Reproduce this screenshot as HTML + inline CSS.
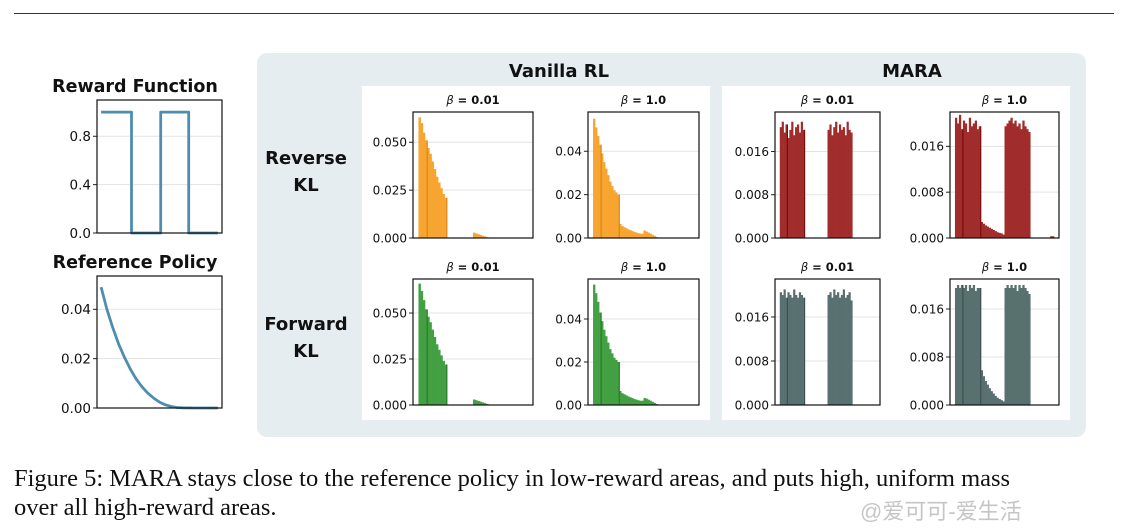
<!DOCTYPE html>
<html><head><meta charset="utf-8">
<style>
html,body{margin:0;padding:0;background:#fff;}
body{width:1129px;height:532px;position:relative;overflow:hidden;font-family:"DejaVu Sans","Liberation Sans",sans-serif;}
.cap{position:absolute;left:14px;font-family:"Liberation Serif",serif;font-size:24.5px;color:#111;white-space:nowrap;}
</style></head>
<body>
<div style="position:absolute;left:14px;top:13px;width:1100px;height:1px;background:#333"></div>
<svg id="fig" width="1129" height="450" style="position:absolute;left:0;top:0">
<rect x="257" y="53" width="829" height="384" rx="10" fill="#e6edf1"/>
<rect x="362" y="86" width="348" height="334" fill="#fff"/>
<rect x="722" y="86" width="348" height="334" fill="#fff"/>
<text x="559" y="77" text-anchor="middle" font-size="18" font-weight="bold" fill="#111">Vanilla RL</text>
<text x="912" y="77" text-anchor="middle" font-size="18" font-weight="bold" fill="#111">MARA</text>
<text x="306" y="164" text-anchor="middle" font-size="18" font-weight="bold" fill="#111">Reverse</text>
<text x="306" y="191" text-anchor="middle" font-size="18" font-weight="bold" fill="#111">KL</text>
<text x="306" y="330" text-anchor="middle" font-size="18" font-weight="bold" fill="#111">Forward</text>
<text x="306" y="357" text-anchor="middle" font-size="18" font-weight="bold" fill="#111">KL</text>
</svg>
<div class="cap" style="top:465px">Figure 5: MARA stays close to the reference policy in low-reward areas, and puts high, uniform mass</div>
<div class="cap" style="top:494px">over all high-reward areas.</div>
<div style="position:absolute;left:860px;top:494px;font-family:'Liberation Sans','Noto Sans CJK SC',sans-serif;font-size:22px;color:rgba(150,150,150,0.55)">@爱可可-爱生活</div>
<script>
// ---- data ----
const rewardX = [0, 0.26, 0.26, 0.51, 0.51, 0.75, 0.75, 1.0];
const rewardY = [1, 1, 0, 0, 1, 1, 0, 0];
const rewardTicks = [0.0, 0.4, 0.8];
const refX = [0, 0.05, 0.1, 0.15, 0.2, 0.25, 0.3, 0.35, 0.4, 0.45, 0.5, 0.55, 0.6, 0.65, 0.7, 0.8, 0.9, 1.0];
const refY = [0.049, 0.040, 0.0325, 0.026, 0.0205, 0.0158, 0.0118, 0.0086, 0.006, 0.004, 0.0024, 0.0013, 0.0006, 0.0002, 0.0001, 0, 0, 0];
const refTicks = [0.00, 0.02, 0.04];
const revVan001 = [0.063,0.060,0.055,0.051,0.047,0.044,0.040,0.036,0.032,0.029,0.026,0.023,0.021, 0,0,0,0,0,0,0,0,0,0,0,0, 0.0028,0.0024,0.002,0.0016,0.0012,0.0008,0.0004, 0,0,0,0,0,0,0,0,0,0,0,0,0,0,0,0,0,0];
const revVan1 = [0.055,0.051,0.047,0.043,0.039,0.035,0.032,0.029,0.026,0.024,0.022,0.021,0.020, 0.0065,0.0055,0.005,0.0045,0.004,0.0036,0.0032,0.0028,0.0025,0.0022,0.002,0.002, 0.0035,0.003,0.0025,0.002,0.0015,0.001,0.0005, 0,0,0,0,0,0,0,0,0,0,0,0,0,0,0,0,0,0];
const fwdVan001 = [0.066,0.062,0.057,0.052,0.048,0.045,0.041,0.037,0.033,0.030,0.027,0.024,0.022, 0,0,0,0,0,0,0,0,0,0,0,0, 0.003,0.0026,0.0022,0.0018,0.0014,0.001,0.0006, 0,0,0,0,0,0,0,0,0,0,0,0,0,0,0,0,0,0];
const fwdVan1 = [0.056,0.052,0.048,0.043,0.039,0.035,0.032,0.029,0.026,0.024,0.022,0.021,0.020, 0.0065,0.0055,0.005,0.0045,0.004,0.0036,0.0032,0.0028,0.0025,0.0022,0.002,0.002, 0.0033,0.003,0.0025,0.002,0.0015,0.001,0.0005, 0,0,0,0,0,0,0,0,0,0,0,0,0,0,0,0,0,0];
const revMara001 = [0.0205,0.0215,0.0195,0.021,0.0185,0.020,0.0215,0.019,0.0205,0.021,0.0195,0.0215,0.020, 0,0,0,0,0,0,0,0,0,0,0,0, 0.020,0.021,0.019,0.0205,0.0215,0.0195,0.021,0.020,0.0205,0.019,0.0215,0.020,0.0195, 0,0,0,0,0,0,0,0,0,0,0,0];
const revMara1 = [0.021,0.020,0.0215,0.019,0.0205,0.020,0.0185,0.021,0.0195,0.020,0.0205,0.019,0.0195, 0.0028,0.0025,0.0022,0.002,0.0018,0.0016,0.0014,0.0012,0.001,0.0009,0.0008,0.0006, 0.0195,0.020,0.0205,0.021,0.020,0.0205,0.0195,0.020,0.019,0.0205,0.0195,0.019,0.0185, 0,0,0,0,0,0,0,0,0,0,0.0003,0.0003];
const fwdMara001 = [0.0205,0.020,0.021,0.0195,0.0205,0.020,0.0195,0.021,0.020,0.0195,0.0205,0.020,0.0195, 0,0,0,0,0,0,0,0,0,0,0,0, 0.020,0.0205,0.0195,0.021,0.020,0.0205,0.0195,0.020,0.021,0.0195,0.020,0.0205,0.019, 0,0,0,0,0,0,0,0,0,0,0,0];
const fwdMara1 = [0.0195,0.020,0.0195,0.020,0.0195,0.020,0.019,0.020,0.0195,0.020,0.019,0.0195,0.0195, 0.0058,0.0048,0.004,0.0034,0.0028,0.0023,0.0019,0.0015,0.0012,0.001,0.0008,0.0006, 0.0195,0.020,0.0195,0.020,0.0195,0.020,0.019,0.020,0.0195,0.020,0.0195,0.019,0.0185, 0,0,0,0,0,0,0,0,0,0,0,0];
const tick050 = [0, 0.025, 0.050];
const tick04 = [0, 0.02, 0.04];
const tick016 = [0, 0.008, 0.016];

const NS = "http://www.w3.org/2000/svg";
const svg = document.getElementById("fig");
function mk(tag, attrs, parent) {
  const e = document.createElementNS(NS, tag);
  for (const k in attrs) e.setAttribute(k, attrs[k]);
  (parent || svg).appendChild(e);
  return e;
}
function axes(x0, y0, w, h, yMax, ticks, fmt, xMin, xMax, fs) {
  const sx = v => x0 + (v - xMin) / (xMax - xMin) * w;
  const sy = v => y0 + h - v / yMax * h;
  ticks.forEach(t => {
    const g = mk("line", {x1: x0, x2: x0 + w, y1: sy(t), y2: sy(t), stroke: "#e3e3e3", "stroke-width": 1});
    
    
    const tk = mk("line", {x1: x0 - 4, x2: x0, y1: sy(t), y2: sy(t), stroke: "#222", "stroke-width": 1});
    
    
    const tx = mk("text", {x: x0 - 6, y: sy(t) + fs * 0.36, "text-anchor": "end", "font-size": fs, fill: "#111"});
    tx.textContent = t.toFixed(fmt);
    
    
  });
  return {sx, sy};
}
function frame(x0, y0, w, h) {
  const r = mk("rect", {x: x0, y: y0, width: w, height: h, fill: "none", stroke: "#111", "stroke-width": 1.2});
  
  
}
function linePlot(x0, y0, w, h, title, xs, ys, yMax, ticks, fmt, name) {
  const t = mk("text", {x: 135, y: y0 - 8, "text-anchor": "middle", "font-size": 17.5, "font-weight": "bold", fill: "#111"});
  t.textContent = title;
  
  
  const {sx, sy} = axes(x0, y0, w, h, yMax, ticks, fmt, -0.035, 1.035, 13.5);
  const d = xs.map((x, i) => (i ? "L" : "M") + sx(x).toFixed(1) + "," + sy(ys[i]).toFixed(1)).join("");
  const p = mk("path", {d: d, fill: "none", stroke: "#4f8db0", "stroke-width": 2.8, "stroke-linejoin": "round"});
  
  
  frame(x0, y0, w, h);
}
function hist(x0, y0, w, h, title, data, yMax, ticks, fmt, color, edge, name) {
  const t = mk("text", {x: x0 + w / 2, y: y0 - 8, "text-anchor": "middle", "font-size": 11.5, "font-weight": "bold", fill: "#111"});
  t.innerHTML = '<tspan font-style="italic" font-weight="normal">β</tspan> = ' + title;
  
  
  const {sx, sy} = axes(x0, y0, w, h, yMax, ticks, fmt, -0.05, 1.05, 12);
  const n = data.length, bw = 1 / n;
  data.forEach((v, i) => {
    if (v <= 0) return;
    const xa = sx(i * bw), xb = sx((i + 1) * bw);
    const b = mk("rect", {x: xa, y: sy(v), width: xb - xa + 0.3, height: sy(0) - sy(v), fill: color});
    
    
  });
  [3, 12].forEach(i => {
    if (data[i] > 0) {
      const l = mk("line", {x1: sx((i + 1) * bw), x2: sx((i + 1) * bw), y1: sy(data[i]), y2: sy(0), stroke: edge, "stroke-width": 1.2});
      
      
    }
  });
  frame(x0, y0, w, h);
}
linePlot(97, 100, 125, 133, "Reward Function", rewardX, rewardY, 1.1, rewardTicks, 1, "reward-function");
linePlot(97, 276, 125, 132, "Reference Policy", refX, refY, 0.0535, refTicks, 2, "reference-policy");
const OR = "#f7a530", ORE = "#d8861a", RD = "#a12c2c", RDE = "#7a0d0d", GR = "#42a043", GRE = "#2a7a2a", SL = "#58706f", SLE = "#3c5150";
hist(413, 112, 120, 126, "0.01", revVan001, 0.0658, tick050, 3, OR, ORE, "reverse-vanilla-b001");
hist(588, 112, 111, 126, "1.0", revVan1, 0.0581, tick04, 2, OR, ORE, "reverse-vanilla-b1");
hist(775, 112, 105, 126, "0.01", revMara001, 0.0233, tick016, 3, RD, RDE, "reverse-mara-b001");
hist(950, 112, 109, 126, "1.0", revMara1, 0.022, tick016, 3, RD, RDE, "reverse-mara-b1");
hist(413, 279, 120, 126, "0.01", fwdVan001, 0.0685, tick050, 3, GR, GRE, "forward-vanilla-b001");
hist(588, 279, 111, 126, "1.0", fwdVan1, 0.0586, tick04, 2, GR, GRE, "forward-vanilla-b1");
hist(775, 279, 105, 126, "0.01", fwdMara001, 0.0229, tick016, 3, SL, SLE, "forward-mara-b001");
hist(950, 279, 109, 126, "1.0", fwdMara1, 0.021, tick016, 3, SL, SLE, "forward-mara-b1");
</script>
</body></html>
